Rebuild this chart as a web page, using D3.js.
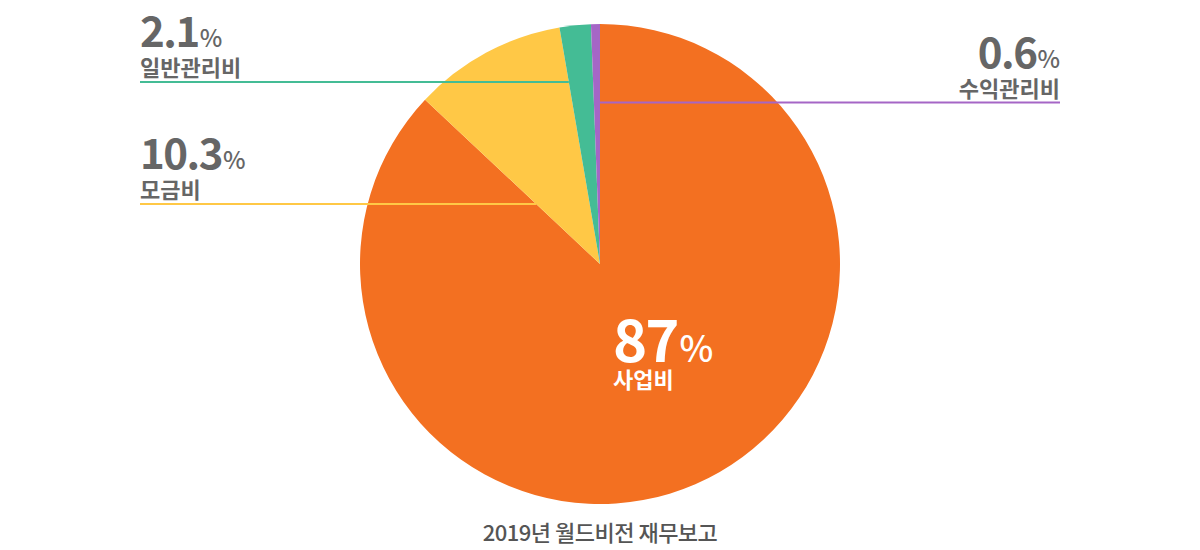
<!DOCTYPE html>
<html>
<head>
<meta charset="utf-8">
<script src="https://cdn.jsdelivr.net/npm/d3@7"></script>
<style>
  body { margin: 0; background: #fff; }
  svg { display: block; font-family: "Noto Sans CJK KR", "Noto Sans", sans-serif; }
</style>
</head>
<body>
<svg width="1200" height="550"></svg>
<script>
// data
var categories = ["사업비", "모금비", "일반관리비", "수익관리비"];
var values = [87, 10.3, 2.1, 0.6];
var valueLabels = ["87", "10.3", "2.1", "0.6"];
var colors = ["#f37021", "#ffc846", "#44bc95", "#a566c6"];
var title = "2019년 월드비전 재무보고";

var width = 1200, height = 550;
var cx = 600, cy = 264, radius = 240;

var svg = d3.select("svg")
            .attr("width", width)
            .attr("height", height);

var pie = d3.pie().sort(null).value(function(d) { return d; });
var arcs = pie(values);

var arc = d3.arc().innerRadius(0).outerRadius(radius);

var g = svg.append("g")
           .attr("transform", "translate(" + cx + "," + cy + ")");

g.selectAll("path")
 .data(arcs)
 .enter()
 .append("path")
 .attr("d", arc)
 .attr("fill", function(d, i) { return colors[i]; });

// x where a ray from center at pie angle a meets horizontal line y (relative to center)
function rayX(a, y) {
  var c = Math.cos(a);
  if (Math.abs(c) < 1e-6) return 0;
  return (-y / c) * Math.sin(a);
}

// outside labels: leader y, side, which slice edge the line meets
var outside = [
  { i: 1, lineY: -60, side: "left", edge: "start" },
  { i: 2, lineY: -182, side: "left", edge: "start" },
  { i: 3, lineY: -161.5, side: "right", edge: "end" }
];
var leftX = 140 - cx, rightX = 1060 - cx;

outside.forEach(function(o) {
  var a = o.edge === "start" ? arcs[o.i].startAngle : arcs[o.i].endAngle;
  var ex = rayX(a, o.lineY);
  var x0 = o.side === "left" ? leftX : rightX;
  g.append("line")
   .attr("x1", x0).attr("x2", ex)
   .attr("y1", o.lineY).attr("y2", o.lineY)
   .attr("stroke", colors[o.i])
   .attr("stroke-width", 2);

  var anchor = o.side === "left" ? "start" : "end";
  g.append("text")
   .attr("x", x0)
   .attr("y", o.lineY - 6)
   .attr("text-anchor", anchor)
   .attr("fill", "#666")
   .attr("font-size", 22)
   .attr("font-weight", 700)
   .text(categories[o.i]);

  var t = g.append("text")
   .attr("x", x0)
   .attr("y", o.lineY - 35)
   .attr("text-anchor", anchor)
   .attr("fill", "#666");
  t.append("tspan")
   .attr("font-size", 42)
   .attr("font-weight", 700)
   .attr("letter-spacing", -1.5)
   .text(valueLabels[o.i]);
  t.append("tspan")
   .attr("font-size", 24)
   .attr("font-weight", 500)
   .attr("dx", 1)
   .text("%");
});

// inside label for the large slice
var inX = 613 - cx;
var big = g.append("text")
 .attr("x", inX)
 .attr("y", 362 - cy)
 .attr("fill", "#fff");
big.append("tspan")
 .attr("font-size", 58)
 .attr("font-weight", 700)
 .attr("letter-spacing", -2)
 .text(valueLabels[0]);
big.append("tspan")
 .attr("font-size", 36)
 .attr("font-weight", 500)
 .attr("dx", 2)
 .text("%");

g.append("text")
 .attr("x", inX)
 .attr("y", 388 - cy)
 .attr("fill", "#fff")
 .attr("font-size", 22)
 .attr("font-weight", 700)
 .text(categories[0]);

svg.append("text")
   .attr("x", cx)
   .attr("y", 541)
   .attr("text-anchor", "middle")
   .attr("fill", "#555")
   .attr("font-size", 22)
   .attr("font-weight", 500)
   .attr("letter-spacing", -0.5)
   .text(title);
</script>
</body>
</html>
